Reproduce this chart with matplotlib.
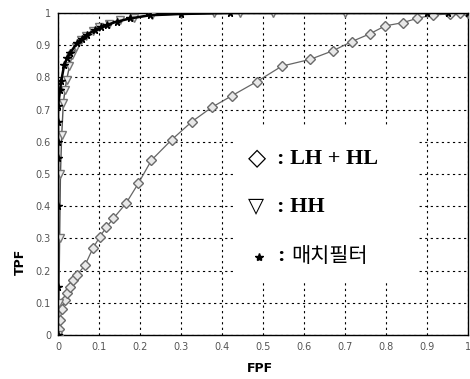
import matplotlib
matplotlib.use("Agg")
import matplotlib.pyplot as plt
from matplotlib.patches import Rectangle

# ROC curves: false positive fraction vs true positive fraction
lhhl_fpf = [0.0, 0.002, 0.005, 0.010, 0.017, 0.023, 0.029, 0.037, 0.046, 0.066,
            0.085, 0.102, 0.118, 0.135, 0.166, 0.196, 0.228, 0.277, 0.326, 0.375,
            0.424, 0.485, 0.546, 0.615, 0.671, 0.716, 0.760, 0.798, 0.841, 0.875,
            0.915, 0.955, 0.980, 1.0]
lhhl_tpf = [0.0, 0.020, 0.047, 0.080, 0.109, 0.130, 0.150, 0.170, 0.186, 0.217,
            0.269, 0.305, 0.335, 0.362, 0.409, 0.471, 0.543, 0.606, 0.662, 0.707,
            0.743, 0.787, 0.835, 0.856, 0.883, 0.911, 0.935, 0.960, 0.970, 0.983,
            0.994, 0.997, 1.0, 1.0]

hh_fpf = [0.0, 0.002, 0.004, 0.006, 0.009, 0.013, 0.017, 0.021, 0.028, 0.035,
          0.045, 0.055, 0.068, 0.085, 0.100, 0.125, 0.150, 0.185, 0.230, 0.300,
          0.380, 0.445, 0.525, 0.700, 0.900, 1.0]
hh_tpf = [0.0, 0.10, 0.30, 0.50, 0.62, 0.72, 0.76, 0.792, 0.835, 0.870,
          0.895, 0.915, 0.930, 0.945, 0.955, 0.967, 0.977, 0.986, 0.993, 0.997,
          0.999, 1.0, 1.0, 1.0, 1.0, 1.0]

mf_fpf = [0.0, 0.0, 0.0, 0.0, 0.0, 0.0, 0.0, 0.005, 0.008, 0.015, 0.022, 0.029,
          0.046, 0.058, 0.070, 0.090, 0.105, 0.119, 0.143, 0.176, 0.224, 0.300,
          0.420, 0.900, 0.950, 1.0]
mf_tpf = [0.0, 0.15, 0.40, 0.55, 0.60, 0.66, 0.71, 0.760, 0.790, 0.838, 0.860,
          0.875, 0.906, 0.920, 0.932, 0.947, 0.955, 0.963, 0.973, 0.983, 0.993,
          0.997, 1.0, 1.0, 1.0, 1.0]

ticks = [0, 0.1, 0.2, 0.3, 0.4, 0.5, 0.6, 0.7, 0.8, 0.9, 1]
tick_labels = ["0", "0.1", "0.2", "0.3", "0.4", "0.5", "0.6", "0.7", "0.8", "0.9", "1"]

fig = plt.figure(figsize=(4.70, 3.79), dpi=100)
ax = fig.add_axes([58 / 470, 44 / 379, 410 / 470, 322 / 379])

ax.plot(lhhl_fpf, lhhl_tpf, color="#666666", lw=0.9, marker="D", ms=5,
        mfc="#e8e8e8", mec="#6a6a6a", mew=1.0, zorder=3)
ax.plot(hh_fpf, hh_tpf, color="#555555", lw=1.0, marker="v", ms=5.5,
        mfc="#eeeeee", mec="#777777", mew=1.0, zorder=4)
ax.plot(mf_fpf, mf_tpf, color="black", lw=1.8, marker="*", ms=5.5,
        mfc="black", mec="black", zorder=5)

ax.set_xlim(0, 1)
ax.set_ylim(0, 1)
ax.set_xticks(ticks)
ax.set_yticks(ticks)
ax.set_xticklabels(tick_labels)
ax.set_yticklabels(tick_labels)
ax.tick_params(length=0, labelsize=7, labelcolor="#555555", pad=5)
ax.set_axisbelow(True)
ax.grid(True, color="black", linestyle=(0, (2, 3)), linewidth=0.8)
for s in ax.spines.values():
    s.set_linewidth(1.0)
    s.set_color("black")

# white panel holding the legend entries
ax.add_patch(Rectangle((0.427, 0.168), 0.449, 0.484, facecolor="white",
                       edgecolor="none", zorder=1))

serif = dict(family="Liberation Serif", fontweight="bold", fontsize=16,
             color="black", va="center", zorder=6)
ax.text(0.485, 0.550, "◇", family="DejaVu Sans", fontsize=17, ha="center",
        va="center", zorder=6)
ax.text(0.535, 0.548, ": LH + HL", ha="left", **serif)
ax.text(0.483, 0.400, "▽", family="DejaVu Sans", fontsize=15, ha="center",
        va="center", zorder=6)
ax.text(0.535, 0.396, ": HH", ha="left", **serif)
ax.plot([0.49], [0.243], marker="*", color="black", ms=6, zorder=6)
ax.text(0.535, 0.246, ":", ha="left", **serif)
ax.text(0.570, 0.246, "매치필터", family=["Noto Sans CJK KR", "DejaVu Sans"],
        fontsize=15, fontweight="light", ha="left", va="center", zorder=6)

fig.text(260 / 470, 1 - 368 / 379, "FPF", fontsize=9, fontweight="bold",
         ha="center", va="center")
fig.text(20 / 470, 1 - 262 / 379, "TPF", fontsize=9, fontweight="bold",
         ha="center", va="center", rotation=90)

fig.savefig("out.png", dpi=100)
